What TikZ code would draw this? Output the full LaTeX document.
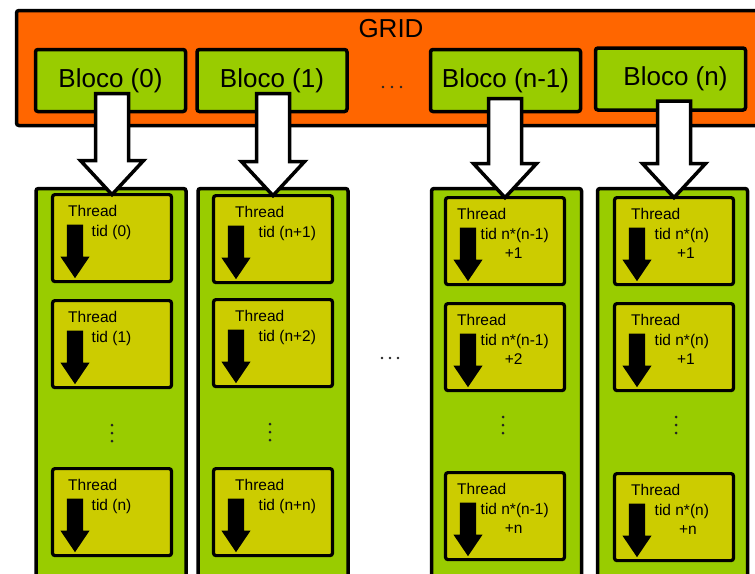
\documentclass[tikz,border=0pt]{standalone}
\usepackage{fontspec}
\setmainfont{Liberation Sans}
\usetikzlibrary{calc}
\definecolor{gridorange}{HTML}{FF6600}
\definecolor{blockgreen}{HTML}{99CC00}
\definecolor{threadyellow}{HTML}{CCCC00}
\definecolor{dotgray}{HTML}{222222}

% One thread cell: name, centre x, outer top, text shift, tid text, optional second line, its shift
\newcommand{\threadcell}[7]{%
  \node[threadbox, anchor=north] (#1) at (#2,#3+1.6) {};
  \begin{scope}[shift={(#1.north west)}]
    \node[small, anchor=west] (#1-name) at ({15.5+#4},17.5) {Thread};
    \node[small, anchor=west] (#1-tid) at ({39+#4},38) {#5};
    \draw[tinyarrow] (15,30.5) -- (30,30.5) -- (30,62.5) -- (36,62.5)
      -- (22.5,82.5) -- (9,62.5) -- (15,62.5) -- cycle;
  \end{scope}
  \if\relax\detokenize{#6}\relax\else
    \node[small] (#1-more) at ($(#1-tid.center)+(#7,19)$) {#6};
  \fi
}

% Fat white arrow from a block down to the first thread of its column
\newcommand{\fatarrow}[3]{% from, to, rise above the block's bottom
  \draw[fatarrowstyle] let \p1=(#1.south), \p2=(#2.north) in
    (\x2-16.5pt,\y1+#3pt) -- (\x2+16.5pt,\y1+#3pt) -- (\x2+16.5pt,\y2+34pt)
    -- (\x2+31.5pt,\y2+34pt) -- (\x2,\y2) -- (\x2-31.5pt,\y2+34pt)
    -- (\x2-16.5pt,\y2+34pt) -- cycle;
}

% Three dots, vertical or horizontal, around a centre
\newcommand{\vdotsat}[2]{\foreach \dd in {-8,0,8} \fill[dotgray] (#1,{#2+\dd}) circle (1.5pt);}
\newcommand{\hdotsat}[3]{\foreach \dd in {-1,0,1} \fill[dotgray] ({#1+#3*\dd},#2) circle (1.4pt);}

\begin{document}
\begin{tikzpicture}[x=1pt,y=-1pt,
  outline/.style={draw=black, line width=3.5pt, rounded corners=2.5pt, outer sep=0pt, inner sep=0pt},
  gridbox/.style={outline, fill=gridorange},
  blocobox/.style={outline, fill=blockgreen, minimum width=150pt, minimum height=62pt,
    font=\fontsize{26}{30}\selectfont},
  colbox/.style={outline, fill=blockgreen, minimum width=150pt, minimum height=420pt},
  threadbox/.style={outline, line width=3.2pt, fill=threadyellow, minimum width=119pt, minimum height=87pt},
  small/.style={font=\fontsize{15.5}{18}\selectfont, inner sep=0pt, text height=11pt, text depth=3pt},
  fatarrowstyle/.style={draw=black, line width=3.5pt, fill=white, line join=miter},
  tinyarrow/.style={draw=black, line width=1.2pt, fill=black, line join=miter}
]
\useasboundingbox (0,0) rectangle (755,573);
\clip (0,0) rectangle (755,573);

% Grid frame and its blocks
\node[gridbox, anchor=north west, minimum width=770pt, minimum height=115pt] (grid) at (16.5,10.5) {};
\node[font=\fontsize{26}{30}\selectfont, inner sep=0pt] (gridtitle) at (391,28.5) {GRID};
\node[blocobox] (b0) at (110.5,80.5) {Bloco (0)};
\node[blocobox] (b1) at (272,80.5) {Bloco (1)};
\node[blocobox] (bn1) at (505.5,80.5) {Bloco (n-1)};
\node[blocobox] (bn) at (670.5,79) {\hspace{10pt}Bloco (n)};
\hdotsat{392}{87}{9}

% Columns of threads
\node[colbox, anchor=north] (c0) at (111,188.5) {};
\node[colbox, anchor=north] (c1) at (273,188.5) {};
\node[colbox, anchor=north] (cn1) at (506.5,188.5) {};
\node[colbox, anchor=north] (cn) at (672.5,188.5) {};

\threadcell{t00}{112}{193}{0}{tid (0)}{}{0}
\threadcell{t01}{112}{299}{0}{tid (1)}{}{0}
\threadcell{t02}{112}{467}{0}{tid (n)}{}{0}
\vdotsat{112}{433}

\threadcell{t10}{273}{194}{6}{tid (n+1)}{}{0}
\threadcell{t11}{273}{298}{6}{tid (n+2)}{}{0}
\threadcell{t12}{273}{467}{6}{tid (n+n)}{}{0}
\vdotsat{270}{432}

\threadcell{t20}{505}{196}{-4}{tid n*(n-1)}{+1}{-1}
\threadcell{t21}{505}{302}{-4}{tid n*(n-1)}{+2}{-1}
\threadcell{t22}{505}{471}{-4}{tid n*(n-1)}{+n}{-1}
\vdotsat{503}{425}

\threadcell{t30}{674}{196}{1}{tid n*(n)}{+1}{4}
\threadcell{t31}{674}{302}{1}{tid n*(n)}{+1}{4}
\threadcell{t32}{674}{472}{1}{tid n*(n)}{+n}{6}
\vdotsat{676}{425}

\hdotsat{390}{358}{8}

% Arrows from each block to its column
\fatarrow{b0}{t00}{18}
\fatarrow{b1}{t10}{18}
\fatarrow{bn1}{t20}{13}
\fatarrow{bn}{t30}{9}
\end{tikzpicture}
\end{document}
